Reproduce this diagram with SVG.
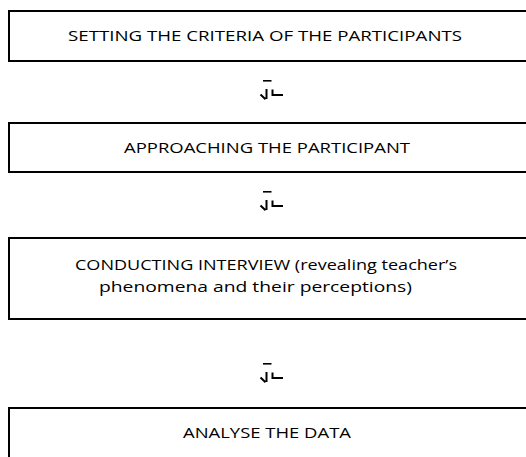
<svg xmlns="http://www.w3.org/2000/svg" width="526" height="457" viewBox="0 0 526 457">
<style>
.box{fill:#fff;stroke:#000;stroke-width:2}
.t{font-family:"Open Sans","Liberation Sans",Arial,sans-serif;font-size:14.8px;fill:#000;text-anchor:middle}
.g{fill:none;stroke:#000;stroke-width:2;stroke-linecap:butt}
</style>
<defs>
<g id="arr">
<rect x="263" y="0" width="8.5" height="1.6" fill="#000"/>
<path class="g" d="M266.5 9 V19 M260.5 14.5 L265.5 19.3"/>
<path class="g" d="M272.5 9.5 V15 H283"/>
</g>
</defs>
<g id="connectors">
<use href="#arr" transform="translate(0,80)"/>
<use href="#arr" transform="translate(0,191)"/>
<use href="#arr" transform="translate(0,363)"/>
</g>
<g id="n1">
<rect class="box" x="9" y="11" width="530" height="50"/>
<text class="t" x="265" y="41" textLength="394" lengthAdjust="spacingAndGlyphs">SETTING THE CRITERIA OF THE PARTICIPANTS</text>
</g>
<g id="n2">
<rect class="box" x="9" y="123" width="530" height="49"/>
<text class="t" x="267" y="153" textLength="286" lengthAdjust="spacingAndGlyphs">APPROACHING THE PARTICIPANT</text>
</g>
<g id="n3">
<rect class="box" x="9" y="238" width="530" height="81"/>
<text class="t" x="266" y="270" textLength="382" lengthAdjust="spacingAndGlyphs">CONDUCTING INTERVIEW (revealing teacher’s</text>
<text class="t" x="255.5" y="292" textLength="313" lengthAdjust="spacingAndGlyphs">phenomena and their perceptions)</text>
</g>
<g id="n4">
<rect class="box" x="9" y="408" width="530" height="60"/>
<text class="t" x="267" y="438" textLength="168" lengthAdjust="spacingAndGlyphs">ANALYSE THE DATA</text>
</g>
</svg>
